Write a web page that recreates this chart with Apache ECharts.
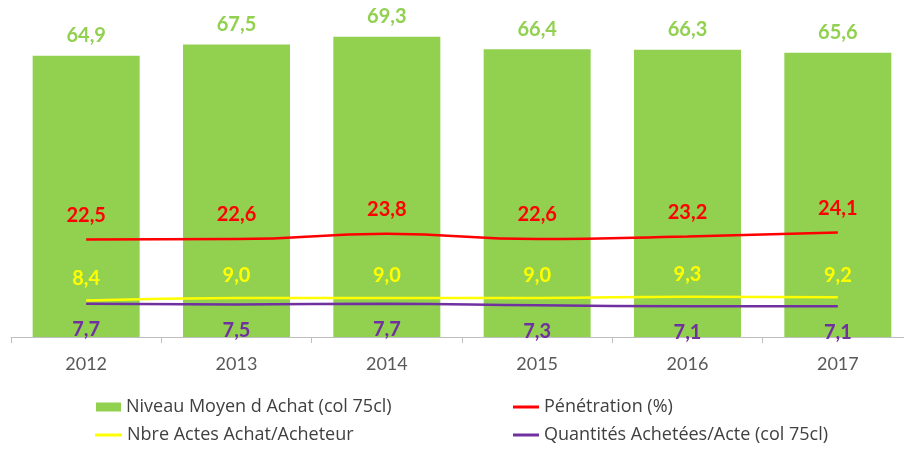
<!DOCTYPE html>
<html>
<head>
<meta charset="utf-8">
<script src="https://cdn.jsdelivr.net/npm/echarts@6/dist/echarts.min.js"></script>
<style>
  html, body { margin: 0; padding: 0; background: #ffffff; overflow: hidden; }
  /* the plot runs slightly past the right edge of the window */
  #chart { width: 916px; height: 450px; }
</style>
</head>
<body>
<div id="chart"></div>
<script>
// Years on the category axis
const years = ['2012', '2013', '2014', '2015', '2016', '2017'];

// Average purchase level (75cl bottles) - bars
const niveauMoyen = [64.9, 67.5, 69.3, 66.4, 66.3, 65.6];
// Penetration (%) - red line
const penetration = [22.5, 22.6, 23.8, 22.6, 23.2, 24.1];
// Purchase acts per buyer - yellow line
const actesParAcheteur = [8.4, 9.0, 9.0, 9.0, 9.3, 9.2];
// Quantities bought per act (75cl bottles) - purple line
const quantitesParActe = [7.7, 7.5, 7.7, 7.3, 7.1, 7.1];

// Series names
const names = [
  'Niveau Moyen d Achat (col 75cl)',
  'Pénétration (%)',
  'Nbre Actes Achat/Acheteur',
  'Quantités Achetées/Acte (col 75cl)'
];

const FONT = 'Lato, "Liberation Sans", sans-serif';
const LEGEND_FONT = '"Open Sans", "Liberation Sans", sans-serif';
const fmt = p => p.value.toFixed(1).replace('.', ',');

function legendAt(name, left, top, w, h) {
  return {
    data: [name],
    left: left,
    top: top,
    icon: 'rect',
    itemWidth: w,
    itemHeight: h,
    itemGap: 0,
    textStyle: { fontFamily: LEGEND_FONT, fontSize: 18, color: '#404040' },
    selectedMode: false
  };
}

// Smooth line with tiny symbols so that value labels are drawn
function lineSeries(name, data, color, pos, dist, z) {
  return {
    name: name,
    type: 'line',
    data: data,
    smooth: true,
    symbol: 'circle',
    symbolSize: 0.1,
    showSymbol: true,
    itemStyle: { color: color },
    lineStyle: { color: color, width: 2.5 },
    label: {
      show: true,
      position: pos,
      distance: dist,
      formatter: fmt,
      fontFamily: FONT,
      fontSize: 20,
      fontWeight: 'bold',
      color: color
    },
    z: z
  };
}

const chart = echarts.init(document.getElementById('chart'), null, { renderer: 'canvas' });

chart.setOption({
  animation: false,
  backgroundColor: '#ffffff',
  grid: { left: 11, top: 12, width: 902, height: 325, containLabel: false },
  xAxis: {
    type: 'category',
    data: years,
    axisLine: { lineStyle: { color: '#bfbfbf', width: 1 } },
    axisTick: { show: true, length: 6, lineStyle: { color: '#bfbfbf' } },
    axisLabel: { fontFamily: FONT, fontSize: 18, color: '#595959', margin: 18 }
  },
  yAxis: {
    type: 'value',
    min: 0,
    max: 75,
    show: false,
    splitLine: { show: false }
  },
  legend: [
    legendAt(names[0], 91, 393, 25, 9),
    legendAt(names[1], 508, 393, 26, 3),
    legendAt(names[2], 90, 421, 27, 3),
    legendAt(names[3], 508, 421, 26, 3)
  ],
  series: [
    {
      name: names[0],
      type: 'bar',
      data: niveauMoyen,
      barWidth: 107,
      itemStyle: { color: '#92D050' },
      label: {
        show: true,
        position: 'top',
        distance: 10,
        formatter: fmt,
        fontFamily: FONT,
        fontSize: 20,
        fontWeight: 'bold',
        color: '#92D050'
      },
      z: 1
    },
    lineSeries(names[1], penetration, '#FF0000', 'top', 14, 3),
    lineSeries(names[3], quantitesParActe, '#7030A0', 'bottom', 16, 3),
    lineSeries(names[2], actesParAcheteur, '#FFFF00', 'top', 12, 4)
  ]
});
</script>
</body>
</html>
